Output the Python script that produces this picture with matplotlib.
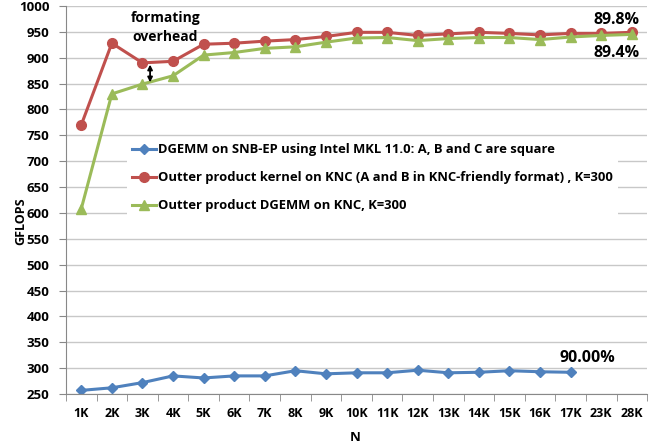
import matplotlib.pyplot as plt
import numpy as np

plt.rcParams["font.family"] = ["Open Sans", "DejaVu Sans"]
plt.rcParams["font.weight"] = "bold"

sizes = ["1K", "2K", "3K", "4K", "5K", "6K", "7K", "8K", "9K", "10K",
         "11K", "12K", "13K", "14K", "15K", "16K", "17K", "23K", "28K"]
snb_mkl = [257, 262, 272, 285, 281, 285, 285, 295, 289, 291,
           291, 296, 291, 292, 295, 293, 292]
knc_kernel = [770, 928, 890, 893, 926, 928, 932, 935, 941, 949,
              949, 943, 946, 949, 947, 944, 947, 947, 949]
knc_dgemm = [608, 830, 849, 865, 905, 910, 918, 921, 930, 938,
             939, 933, 937, 939, 939, 935, 940, 943, 945]

labels = [
    "DGEMM on SNB-EP using Intel MKL 11.0: A, B and C are square",
    "Outter product kernel on KNC (A and B in KNC-friendly format) , K=300",
    "Outter product DGEMM on KNC, K=300",
]

fig = plt.figure(figsize=(6.61, 4.44), dpi=100)
ax = fig.add_axes([0.0998, 0.1126, 0.8792, 0.874])

x = np.arange(len(sizes))
ax.plot(x[:len(snb_mkl)], snb_mkl, color="#4F81BD", marker="D", markersize=5, lw=2.2, label=labels[0])
ax.plot(x, knc_kernel, color="#C0504D", marker="o", markersize=7, lw=2.2, label=labels[1])
ax.plot(x, knc_dgemm, color="#9BBB59", marker="^", markersize=7, lw=2.2, label=labels[2])

ax.set_xlim(-0.5, len(sizes) - 0.5)
ax.set_ylim(250, 1000)
ax.set_yticks(np.arange(250, 1001, 50))
ax.set_xticks(x)
ax.set_xticklabels(sizes)
ax.set_xticks(np.arange(-0.5, len(sizes), 1), minor=True)
ax.tick_params(axis="x", which="major", length=0, labelsize=9, pad=9)
ax.tick_params(axis="x", which="minor", length=5, color="#888888", direction="out")
ax.tick_params(axis="y", length=5, color="#888888", labelsize=9.5, pad=7)
ax.grid(axis="y", color="#c8c8c8", lw=1)
ax.set_axisbelow(True)
for s in ["top", "right"]:
    ax.spines[s].set_visible(False)
ax.spines["left"].set_color("#888888")
ax.spines["bottom"].set_color("#888888")

ax.set_xlabel("N", fontsize=9.5, fontweight="bold")
ax.xaxis.set_label_coords(0.497, -0.095)
ax.set_ylabel("GFLOPS", fontsize=9, fontweight="bold")
ax.yaxis.set_label_coords(-0.067, 0.445)

leg = ax.legend(loc="upper left", bbox_to_anchor=(0.105, 0.66), frameon=True, fancybox=False,
                fontsize=9.4, handlelength=1.8, handletextpad=0.15, labelspacing=1.15,
                borderaxespad=0)
leg.get_frame().set_edgecolor("none")
leg.get_frame().set_facecolor("white")
leg.get_frame().set_alpha(1)

ax.text(2.75, 990, "formating\noverhead", fontsize=10, fontweight="bold", va="top", ha="center", linespacing=1.45)
ax.annotate("", xy=(2.25, knc_dgemm[2] - 2), xytext=(2.25, knc_kernel[2] + 2),
            arrowprops=dict(arrowstyle="<|-|>", color="black", lw=1.3, mutation_scale=7))
ax.text(18.25, 958, "89.8%", fontsize=11.5, fontweight="bold", ha="right", va="bottom")
ax.text(18.25, 924, "89.4%", fontsize=11.5, fontweight="bold", ha="right", va="top")
ax.text(16.55, 304, "90.00%", fontsize=11.5, fontweight="bold", ha="center", va="bottom")

fig.savefig("out.png", dpi=100)
